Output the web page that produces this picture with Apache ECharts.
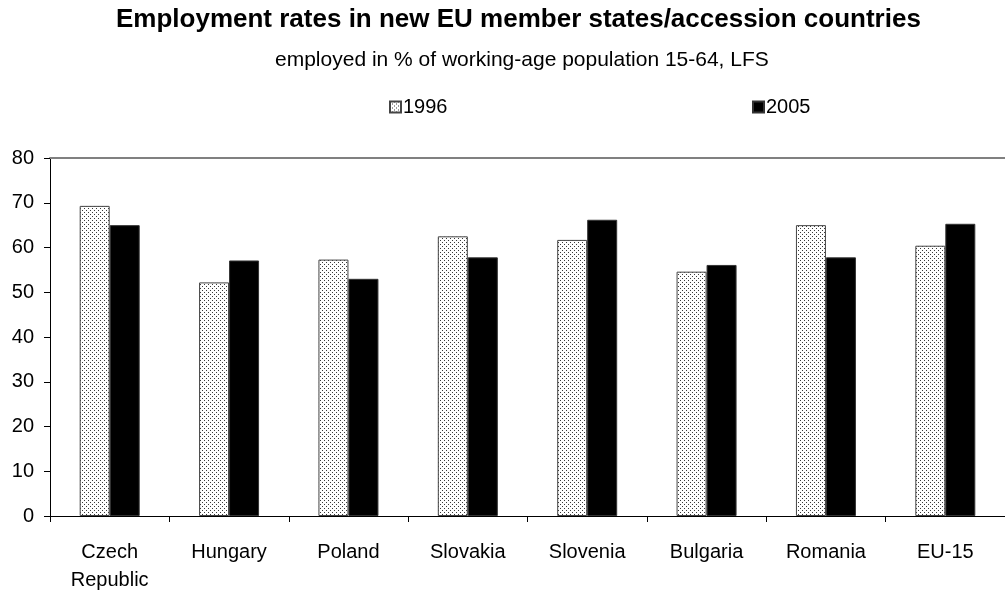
<!DOCTYPE html>
<html>
<head>
<meta charset="utf-8">
<script src="https://cdn.jsdelivr.net/npm/echarts@6/dist/echarts.min.js"></script>
<style>
  html, body { margin: 0; padding: 0; background: #fff; }
  #chart { width: 1005px; height: 594px; }
</style>
</head>
<body>
<div id="chart"></div>
<script>
// Employment rates (employed in % of working-age population 15-64, LFS)
const countries = ['Czech\nRepublic', 'Hungary', 'Poland', 'Slovakia', 'Slovenia', 'Bulgaria', 'Romania', 'EU-15'];
const rates1996 = [69.3, 52.2, 57.3, 62.5, 61.7, 54.6, 65.0, 60.4];
const rates2005 = [65.0, 57.1, 53.0, 57.8, 66.2, 56.1, 57.8, 65.3];
const yTicks = { min: 0, max: 80, step: 10 };

const FONT = '"Liberation Sans", Arial, sans-serif';

// Fine dot screen used for the 1996 bars
function dotPattern() {
  const c = document.createElement('canvas');
  c.width = 4; c.height = 4;
  const g = c.getContext('2d');
  g.fillStyle = '#ffffff';
  g.fillRect(0, 0, 4, 4);
  g.fillStyle = '#3a3a3a';
  g.fillRect(0, 0, 1, 1);
  g.fillRect(2, 2, 1, 1);
  return c;
}
const dots = { image: dotPattern(), repeat: 'repeat' };

const chart = echarts.init(document.getElementById('chart'), null, { renderer: 'canvas' });

chart.setOption({
  animation: false,
  backgroundColor: '#ffffff',
  textStyle: { fontFamily: FONT, color: '#000' },
  title: [
    {
      text: 'Employment rates in new EU member states/accession countries',
      left: 111, top: 2,
      textStyle: { fontFamily: FONT, fontSize: 26, fontWeight: 'bold', color: '#000' }
    },
    {
      text: 'employed in % of working-age population 15-64, LFS',
      left: 270, top: 45,
      textStyle: { fontFamily: FONT, fontSize: 21, fontWeight: 'normal', color: '#000' }
    }
  ],
  legend: [
    {
      data: ['1996'], left: 384, top: 92,
      itemWidth: 11, itemHeight: 11, itemGap: 0,
      icon: 'rect',
      textStyle: { fontFamily: FONT, fontSize: 20, color: '#000', padding: [0, 0, 0, -3] }
    },
    {
      data: ['2005'], left: 747, top: 92,
      itemWidth: 11, itemHeight: 11, itemGap: 0,
      icon: 'rect',
      textStyle: { fontFamily: FONT, fontSize: 20, color: '#000', padding: [0, 0, 0, -3] }
    }
  ],
  grid: { left: 50, top: 158, width: 961, bottom: 72, containLabel: false },
  xAxis: [
    {
      type: 'category',
      data: countries,
      axisLine: { lineStyle: { color: '#000', width: 1 } },
      axisTick: { show: true, length: 6, lineStyle: { color: '#000' } },
      axisLabel: { fontFamily: FONT, fontSize: 20, color: '#000', margin: 22, lineHeight: 28, interval: 0 }
    },
    {
      type: 'category',
      position: 'top',
      data: countries,
      axisLine: { lineStyle: { color: '#808080', width: 2 } },
      axisTick: { show: false },
      axisLabel: { show: false }
    }
  ],
  yAxis: {
    type: 'value',
    min: yTicks.min, max: yTicks.max, interval: yTicks.step,
    axisLine: { show: true, lineStyle: { color: '#000', width: 1 } },
    axisTick: { show: true, length: 6, lineStyle: { color: '#000' } },
    splitLine: { show: false },
    axisLabel: { fontFamily: FONT, fontSize: 20, color: '#000', margin: 16 }
  },
  series: [
    {
      name: '1996', type: 'bar', data: rates1996,
      barWidth: 30, barGap: '0%',
      itemStyle: { color: dots, borderColor: '#444', borderWidth: 1 }
    },
    {
      name: '2005', type: 'bar', data: rates2005,
      barWidth: 30, barGap: '0%',
      itemStyle: { color: '#000', borderColor: '#333', borderWidth: 1 }
    }
  ]
});
</script>
</body>
</html>
